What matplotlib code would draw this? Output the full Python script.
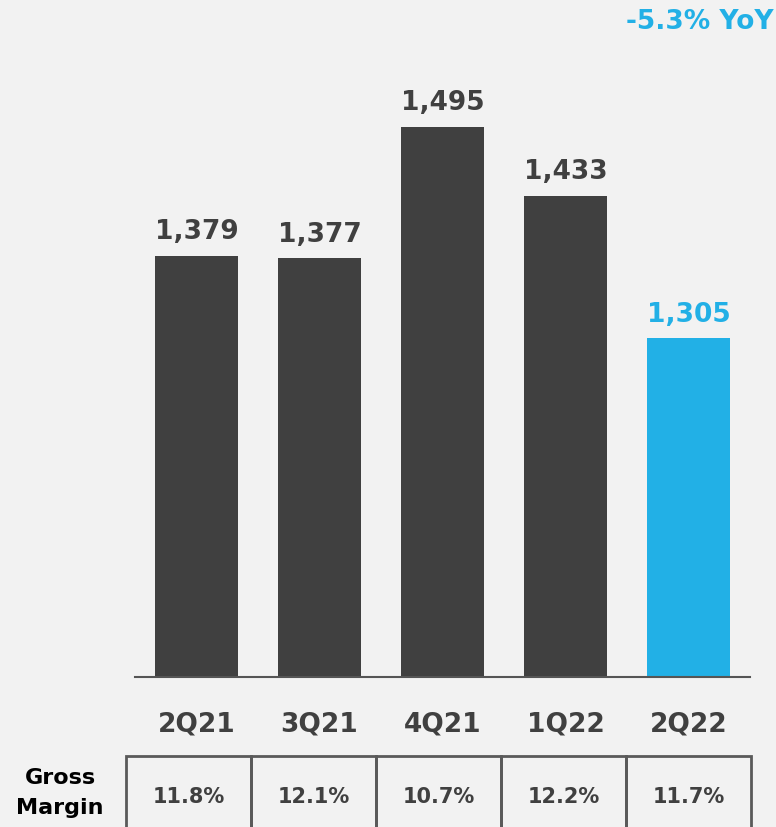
import matplotlib.pyplot as plt
from matplotlib.patches import Rectangle

quarters = ['2Q21', '3Q21', '4Q21', '1Q22', '2Q22']
revenue = [1379, 1377, 1495, 1433, 1305]
gross_margin = ['11.8%', '12.1%', '10.7%', '12.2%', '11.7%']
yoy_text = '-5.3% YoY'

dark = '#404040'
blue = '#22b0e6'
bg = '#f2f2f2'

W, H = 776, 828
fig = plt.figure(figsize=(W / 100, H / 100), dpi=100, facecolor=bg)
plt.rcParams['font.family'] = ['DejaVu Sans']

# main bar axes (pixel layout converted to figure fractions)
ax = fig.add_axes([135 / W, 1 - 678 / H, 615 / W, (678 - 60) / H])
ax.set_facecolor(bg)
colors = [dark] * (len(quarters) - 1) + [blue]
x = range(len(quarters))
bars = ax.bar(x, revenue, width=0.667, color=colors, bottom=0)
ax.set_xlim(-0.5, len(quarters) - 0.5)
ax.set_ylim(1000, 1000 + 618 / 1.112)

for i, v in enumerate(revenue):
    ax.text(i, v + 10, f'{v:,}', ha='center', va='bottom', fontsize=19,
            fontweight='bold', color=colors[i])

for s in ['top', 'right', 'left']:
    ax.spines[s].set_visible(False)
ax.spines['bottom'].set_color('#555555')
ax.spines['bottom'].set_linewidth(1.5)
ax.set_yticks([])
ax.set_xticks(list(x))
ax.set_xticklabels(quarters, fontsize=19, fontweight='bold', color=dark)
ax.tick_params(axis='x', length=0, pad=24)

fig.text(774 / W, 1 - 22 / H, yoy_text, ha='right', va='center', fontsize=19,
         fontweight='bold', color=blue)

# gross margin table
tab = fig.add_axes([126 / W, -0.05, 625 / W, (828 - 757) / H + 0.05])
tab.set_xlim(0, 5)
tab.set_ylim(0, 1)
tab.axis('off')
for i, gm in enumerate(gross_margin):
    tab.add_patch(Rectangle((i, 0), 1, 1, facecolor='none',
                            edgecolor='#5a5a5a', linewidth=2, clip_on=False))
    fig.text((126 + 125 * (i + 0.5)) / W, 1 - 797 / H, gm, ha='center',
             va='center', fontsize=15, fontweight='bold', color=dark)

fig.text(60 / W, 1 - 778 / H, 'Gross', ha='center', va='center', fontsize=16,
         fontweight='bold', color='black')
fig.text(60 / W, 1 - 808 / H, 'Margin', ha='center', va='center', fontsize=16,
         fontweight='bold', color='black')

fig.savefig('out.png', dpi=100, facecolor=bg)
